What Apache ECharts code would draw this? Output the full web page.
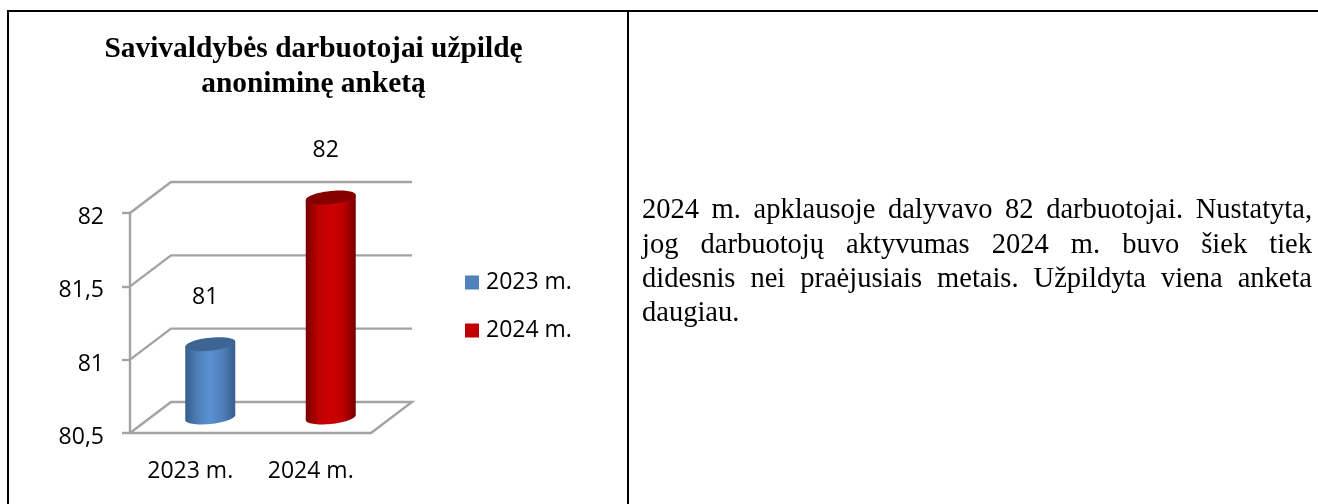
<!DOCTYPE html>
<html><head><meta charset="utf-8">
<style>html,body{margin:0;padding:0;background:#fff}#c{width:1318px;height:504px}</style>
<script src="https://cdn.jsdelivr.net/npm/echarts@6/dist/echarts.min.js"></script></head>
<body><div id="c"></div>
<script>
const categories = ['2023 m.', '2024 m.'];
const values2023 = [81];
const values2024 = [82];
const yTicks = [80.5, 81, 81.5, 82];
const titleLines = ['Savivaldybės darbuotojai užpildę', 'anoniminę anketą'];
const paragraphLines = [
  '2024 m. apklausoje dalyvavo 82 darbuotojai. Nustatyta,',
  'jog darbuotojų aktyvumas 2024 m. buvo šiek tiek',
  'didesnis nei praėjusiais metais. Užpildyta viena anketa',
  'daugiau.'
];

const DX = 41, DY = -31;            // depth of the 3D box
const sansFont = 'Open Sans';
const serif = 'Liberation Serif';
const grey = '#a3a3a3';

function wallItem(params, api) {
  const cs = params.coordSys;
  const y = api.coord([0, api.value(1)])[1];
  const x0 = cs.x, x1 = cs.x + cs.width;
  const pts = [[x0, y], [x0 + DX, y + DY], [x1 + DX, y + DY]];
  if (api.value(1) === yTicks[0]) pts.push([x1, y]);
  return { type: 'polyline', shape: { points: pts }, style: { stroke: grey, lineWidth: 2.4, fill: null } };
}

function cylinderItem(colors) {
  return function (params, api) {
    const top = api.coord([api.value(0), api.value(1)]);
    const bottom = api.coord([api.value(0), yTicks[0]]);
    const cx = top[0] + DX / 2 - 0.5;
    const ty = top[1] + DY / 2, by = bottom[1] + DY / 2;
    const a = 25, b = 6.5, slope = 0.1;
    const pt = (cy, t) => {
      const dx = a * Math.cos(t);
      return [cx + dx, cy + b * Math.sin(t) - slope * dx];
    };
    const body = [], ring = [];
    for (let i = 0; i <= 32; i++) body.push(pt(by, Math.PI * i / 32));
    body.push(pt(ty, Math.PI), pt(ty, 0));
    for (let i = 0; i < 48; i++) ring.push(pt(ty, 2 * Math.PI * i / 48));
    return {
      type: 'group',
      children: [
        { type: 'polygon', shape: { points: body }, style: { fill: {
            type: 'linear', x: 0, y: 0, x2: 1, y2: 0,
            colorStops: [
              { offset: 0, color: colors[0] }, { offset: 0.25, color: colors[1] },
              { offset: 0.5, color: colors[2] },
              { offset: 0.75, color: colors[1] }, { offset: 1, color: colors[0] }
            ] } } },
        { type: 'polygon', shape: { points: ring }, style: { fill: colors[3] } },
        { type: 'text', x: cx - 5, y: ty - 47, style: {
            text: String(api.value(1)), font: '23px "' + sansFont + '"', fill: '#000',
            align: 'center', verticalAlign: 'middle' } }
      ]
    };
  };
}

function measure(text, font) {
  const ctx = document.createElement('canvas').getContext('2d');
  ctx.font = font;
  return ctx.measureText(text).width;
}

function paragraphGraphics() {
  const font = '28.5px "' + serif + '"', left = 642, right = 1312, out = [];
  paragraphLines.forEach((line, i) => {
    const words = line.split(' ');
    const widths = words.map(w => measure(w, font));
    const total = widths.reduce((s, w) => s + w, 0);
    const last = i === paragraphLines.length - 1;
    const gap = last ? 6 : (right - left - total) / (words.length - 1);
    let x = left;
    words.forEach((w, k) => {
      out.push({ type: 'text', x, y: 211 + i * 34.2, style: { text: w, font, fill: '#000', verticalAlign: 'middle' } });
      x += widths[k] + gap;
    });
  });
  return out;
}

const frame = [[[7, 11], [1318, 11]], [[8, 11], [8, 504]], [[628, 11], [628, 504]]].map(l => ({
  type: 'line', shape: { x1: l[0][0], y1: l[0][1], x2: l[1][0], y2: l[1][1] },
  style: { stroke: '#000', lineWidth: 2 }
}));
const titleGraphics = titleLines.map((t, i) => ({
  type: 'text', x: 313.5, y: 49 + i * 35, style: {
    text: t, font: 'bold 29.4px "' + serif + '"', fill: '#000', align: 'center', verticalAlign: 'middle' }
}));

const chart = echarts.init(document.getElementById('c'), null, { renderer: 'canvas' });
chart.setOption({
  animation: false,
  backgroundColor: '#fff',
  graphic: [...frame, ...titleGraphics, ...paragraphGraphics()],
  grid: { left: 130, top: 213, width: 241, height: 220 },
  legend: {
    left: 460, top: 266, orient: 'vertical', itemWidth: 14, itemHeight: 14, itemGap: 25,
    textStyle: { fontFamily: sansFont, fontSize: 23, color: '#000', padding: [0, 0, 0, 2] },
    data: [
      { name: categories[0], icon: 'rect', itemStyle: { color: '#4f81bd' } },
      { name: categories[1], icon: 'rect', itemStyle: { color: '#c00000' } }
    ]
  },
  xAxis: {
    type: 'category', data: categories,
    axisLine: { lineStyle: { color: grey, width: 2.4 } },
    axisTick: { length: 9, alignWithLabel: false, lineStyle: { color: grey, width: 2.4 } },
    axisLabel: { fontFamily: sansFont, fontSize: 23, color: '#000', margin: 27 }
  },
  yAxis: {
    type: 'value', min: yTicks[0], max: yTicks[yTicks.length - 1], interval: 0.5,
    axisLine: { show: true, lineStyle: { color: grey, width: 2.4 } },
    axisTick: { show: true, length: 8, lineStyle: { color: grey, width: 2.4 } },
    splitLine: { show: false },
    axisLabel: { fontFamily: sansFont, fontSize: 23, color: '#000', margin: 26,
      verticalAlign: 'top', padding: [-7, 0, 0, 0],
      formatter: v => String(v).replace('.', ',') }
  },
  series: [
    { type: 'custom', name: 'walls', silent: true, z: 1, renderItem: wallItem,
      data: yTicks.map(v => [0, v]), encode: { x: 0, y: 1 } },
    { type: 'custom', name: categories[0], z: 3, itemStyle: { color: '#4f81bd' },
      renderItem: cylinderItem(['#375d8c', '#4f7fb9', '#5a90d2', '#3c6593']),
      data: values2023.map(v => [0, v]), encode: { x: 0, y: 1 } },
    { type: 'custom', name: categories[1], z: 3, itemStyle: { color: '#c00000' },
      renderItem: cylinderItem(['#760000', '#bd0000', '#cb0000', '#860000']),
      data: values2024.map(v => [1, v]), encode: { x: 0, y: 1 } }
  ]
});
</script></body></html>
